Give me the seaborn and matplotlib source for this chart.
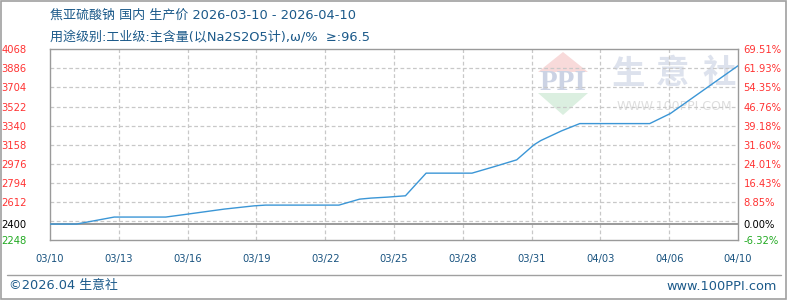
import matplotlib
matplotlib.use("Agg")
import matplotlib.pyplot as plt
from matplotlib.patches import Polygon, Rectangle
from matplotlib.lines import Line2D
import seaborn as sns
import pandas as pd

# ---------------- data ----------------
date_labels = ["03/10", "03/13", "03/16", "03/19", "03/22", "03/25",
               "03/28", "03/31", "04/03", "04/06", "04/10"]
label_pos = [0, 3, 6, 9, 12, 15, 18, 21, 24, 27, 30]

day_pos = [0, 1.15, 2.8, 5.05, 6.0, 7.6, 8.9, 9.4, 12.6, 13.5, 14.0, 14.7,
           15.5, 16.4, 18.4, 19.4, 20.35, 21.1, 21.4, 22.3, 23.1, 26.15,
           27.05, 30]
price = [2400, 2400, 2467, 2467, 2495, 2543, 2574, 2581, 2581, 2638, 2648,
         2657, 2670, 2886, 2886, 2950, 3013, 3156, 3197, 3289, 3359, 3359,
         3455, 3911]

base_price = 2400
y_top = 4068
y_bottom = 2248
y_step = 182
left_ticks = [4068, 3886, 3704, 3522, 3340, 3158, 2976, 2794, 2612, 2400, 2248]
right_labels = ["69.51%", "61.93%", "54.35%", "46.76%", "39.18%", "31.60%",
                "24.01%", "16.43%", "8.85%", "0.00%", "-6.32%"]

title1 = "焦亚硫酸钠 国内 生产价 2026-03-10 - 2026-04-10"
title2 = "用途级别:工业级:主含量(以Na2S2O5计),ω/%  ≥:96.5"
footer_left = "©2026.04 生意社"
footer_right = "www.100PPI.com"

# ---------------- style ----------------
sns.set_theme(style="white")
plt.rcParams["font.family"] = ["DejaVu Sans", "Noto Sans CJK SC"]

W, H = 788, 300
fig = plt.figure(figsize=(W / 100, H / 100), dpi=100)
fig.patch.set_facecolor("white")

def fx(px):
    return px / W

def fy(py):
    return 1 - py / H

ax = fig.add_axes([fx(50), fy(240), fx(738) - fx(50), fy(49.3) - fy(240)])
ax.set_facecolor("none")

df = pd.DataFrame({"day": day_pos, "price": price})
sns.lineplot(data=df, x="day", y="price", ax=ax, color="#3b96d6",
             linewidth=1.0, zorder=5)

ax.set_xlim(0, 30)
ax.set_ylim(y_bottom, y_top)

grid_color = "#c8c8c8"
g = y_top - y_step
while g > base_price:
    ax.axhline(g, color=grid_color, lw=0.9, ls=(0, (3, 2)), zorder=1)
    g -= y_step
for p in label_pos[1:-1]:
    ax.axvline(p, color=grid_color, lw=0.9, ls=(0, (3, 2)), zorder=1)
ax.axhline(base_price, color="#9a9a9a", lw=1.4, zorder=2)

for s in ax.spines.values():
    s.set_color("#9a9a9a")
    s.set_linewidth(1.0)

ax.set_xlabel("")
ax.set_ylabel("")
ax.set_xticks(label_pos)
ax.set_xticklabels(date_labels)
ax.tick_params(axis="x", length=0, pad=10, labelsize=7.2, labelcolor="#1a5480")
ax.set_yticks(left_ticks)
ax.set_yticklabels([str(v) for v in left_ticks])
ax.tick_params(axis="y", length=0, pad=17, labelsize=7.2)


def tick_color(v):
    if v > base_price:
        return "#ff3333"
    if v < base_price:
        return "#22aa22"
    return "#000000"


for lab, v in zip(ax.get_yticklabels(), left_ticks):
    lab.set_color(tick_color(v))

ax2 = ax.twinx()
ax2.set_ylim(y_bottom, y_top)
ax2.set_yticks(left_ticks)
ax2.set_yticklabels(right_labels)
ax2.tick_params(axis="y", length=0, pad=4, labelsize=7.2)
for lab, v in zip(ax2.get_yticklabels(), left_ticks):
    lab.set_color(tick_color(v))
for s in ax2.spines.values():
    s.set_visible(False)
ax2.grid(False)
ax.grid(False)

# ---------------- watermark ----------------
tr = fig.transFigure
ax.add_patch(Polygon([(fx(538), fy(72)), (fx(588), fy(72)), (fx(563), fy(52))],
                     closed=True, transform=tr, facecolor="#f8dada",
                     edgecolor="none", zorder=0))
ax.add_patch(Polygon([(fx(538), fy(93)), (fx(588), fy(93)), (fx(563), fy(115))],
                     closed=True, transform=tr, facecolor="#dbefe0",
                     edgecolor="none", zorder=0))
ax.text(fx(563), fy(83), "PPI", transform=tr, ha="center", va="center",
        fontsize=21, fontweight="bold", family="Liberation Serif",
        color="#ccd3e4", zorder=0)
for ch, cx in zip("生意社", [629, 672.5, 719]):
    ax.text(fx(cx), fy(74), ch, transform=tr, ha="center", va="center",
            fontsize=24, fontweight="bold", family="Noto Sans CJK SC",
            color="#dde2ed", zorder=0)
ax.text(fx(674), fy(107), "WWW.100PPI.COM", transform=tr, ha="center",
        va="center", fontsize=9, color="#dedede", zorder=0)

# ---------------- titles & footer ----------------
title_color = "#1c5a8a"
fig.text(fx(50), fy(15.5), title1, ha="left", va="center", fontsize=9.4,
         color=title_color)
fig.text(fx(50), fy(36.5), title2, ha="left", va="center", fontsize=9.4,
         color=title_color)

fig.add_artist(Line2D([fx(7), fx(781)], [fy(275), fy(275)], color="#a0a0a0",
                      lw=1.0, transform=tr))
fig.text(fx(9), fy(286), footer_left, ha="left", va="center", fontsize=9.3,
         color=title_color)
fig.text(fx(777), fy(286), footer_right, ha="right", va="center",
         fontsize=9.3, color=title_color)
fig.add_artist(Rectangle((0.001, 0.002), 0.997, 0.995, fill=False,
                         edgecolor="#a0a0a0", lw=1.2, transform=tr))

fig.savefig("out.png", dpi=100, facecolor="white")
